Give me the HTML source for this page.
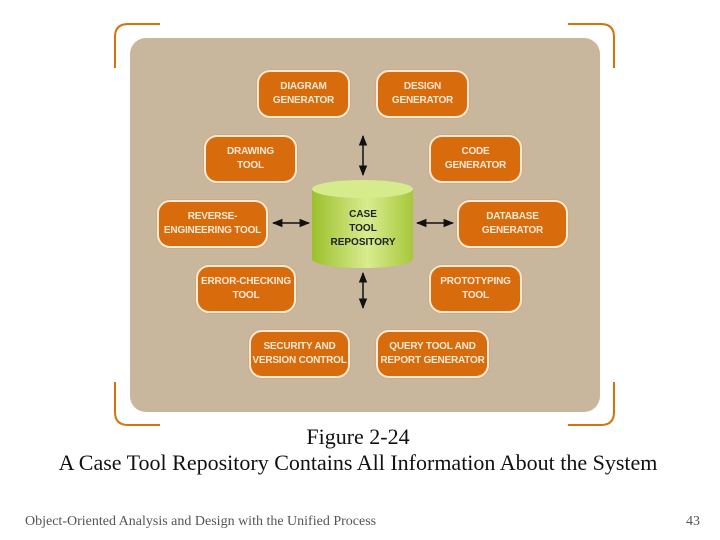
<!DOCTYPE html>
<html><head><style>
body{margin:0;width:720px;height:540px;background:#fff;position:relative;overflow:hidden;font-family:"Liberation Serif",serif}
.p{position:absolute;left:130px;top:38px;width:470px;height:374px;background:#c8b79c;border-radius:16px}
.n{position:absolute;box-sizing:border-box;background:#d86b0c;border:2px solid #f6eadb;border-radius:13px;color:#fbe9d6;font-family:"Liberation Sans",sans-serif;font-weight:bold;font-size:10px;letter-spacing:-0.2px;line-height:14px;text-align:center;display:flex;align-items:center;justify-content:center;box-shadow:0 0 0 1px #d8a878;white-space:nowrap}
.t{position:absolute;left:0;width:720px;text-align:center;font-size:22px;color:#111}
</style></head><body>
<svg width="720" height="540" style="position:absolute;left:0;top:0">
<g fill="none" stroke="#d8700c" stroke-width="2">
<path d="M160 24 H128 Q115 24 115 37 V68"/>
<path d="M568 24 H601 Q614 24 614 37 V68"/>
<path d="M160 425 H128 Q115 425 115 412 V382"/>
<path d="M568 425 H601 Q614 425 614 412 V382"/>
</g>
</svg>
<div class="p"></div>
<div class="n" style="left:257px;top:70px;width:93px;height:48px">DIAGRAM<br>GENERATOR</div>
<div class="n" style="left:376px;top:70px;width:93px;height:48px">DESIGN<br>GENERATOR</div>
<div class="n" style="left:204px;top:135px;width:93px;height:48px">DRAWING<br>TOOL</div>
<div class="n" style="left:429px;top:135px;width:93px;height:48px">CODE<br>GENERATOR</div>
<div class="n" style="left:157px;top:200px;width:111px;height:48px">REVERSE-<br>ENGINEERING TOOL</div>
<div class="n" style="left:457px;top:200px;width:111px;height:48px">DATABASE<br>GENERATOR</div>
<div class="n" style="left:196px;top:265px;width:100px;height:48px">ERROR-CHECKING<br>TOOL</div>
<div class="n" style="left:429px;top:265px;width:93px;height:48px">PROTOTYPING<br>TOOL</div>
<div class="n" style="left:249px;top:330px;width:101px;height:48px">SECURITY AND<br>VERSION CONTROL</div>
<div class="n" style="left:376px;top:330px;width:113px;height:48px">QUERY TOOL AND<br>REPORT GENERATOR</div>
<svg width="720" height="540" style="position:absolute;left:0;top:0">
<defs>
<linearGradient id="g" x1="0" x2="1"><stop offset="0" stop-color="#9cc02c"/><stop offset=".55" stop-color="#d8ec90"/><stop offset="1" stop-color="#a6c83a"/></linearGradient>
<marker id="a" viewBox="0 0 10 10" refX="9" refY="5" markerWidth="7" markerHeight="7" orient="auto-start-reverse"><path d="M0 1 L10 5 L0 9 z" fill="#111"/></marker>
</defs>
<path d="M312 189 V259 A50.5 9 0 0 0 413 259 V189 Z" fill="url(#g)"/>
<ellipse cx="362.5" cy="189" rx="50.5" ry="9" fill="#d6eb8c"/>
<g font-family="Liberation Sans,sans-serif" font-weight="bold" font-size="10" text-anchor="middle" fill="#222">
<text x="363" y="217">CASE</text>
<text x="363" y="231">TOOL</text>
<text x="363" y="245">REPOSITORY</text>
</g>
<g stroke="#111" stroke-width="1.5" marker-start="url(#a)" marker-end="url(#a)">
<line x1="363" y1="136" x2="363" y2="175"/>
<line x1="363" y1="273" x2="363" y2="308"/>
<line x1="273" y1="223" x2="309" y2="223"/>
<line x1="417" y1="223" x2="453" y2="223"/>
</g>
</svg>
<div class="t" style="top:424px;left:-2px">Figure 2-24</div>
<div class="t" style="top:450px;left:-2px">A Case Tool Repository Contains All Information About the System</div>
<div style="position:absolute;left:25px;top:514px;font-size:14px;color:#555">Object-Oriented Analysis and Design with the Unified Process</div>
<div style="position:absolute;left:686px;top:514px;font-size:14px;color:#555">43</div>
</body></html>
